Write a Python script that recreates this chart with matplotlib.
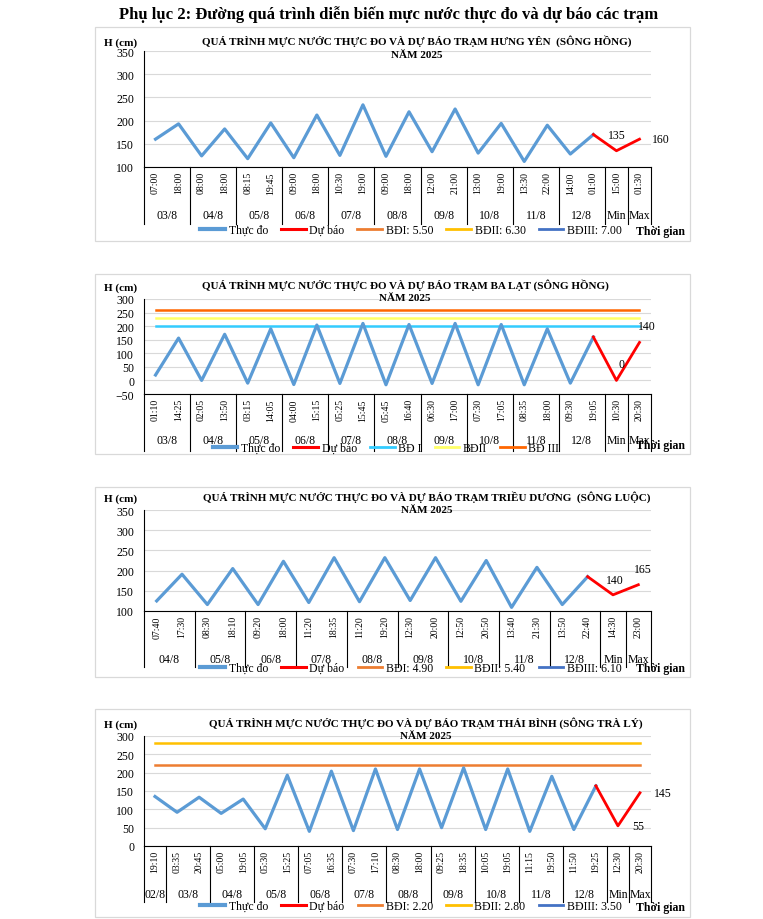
import numpy as np
import matplotlib

matplotlib.use("Agg")
import matplotlib.pyplot as plt
from matplotlib.lines import Line2D
from matplotlib.patches import Rectangle
from matplotlib.transforms import blended_transform_factory

W, H = 763, 920
plt.rcParams["font.family"] = ["Liberation Serif", "DejaVu Serif"]

OBS_COLOR = "#5B9BD5"
FC_COLOR = "#FF0000"

# ---- Trạm Hưng Yên (sông Hồng)
hy_groups = ["03/8", "04/8", "05/8", "06/8", "07/8", "08/8", "09/8", "10/8", "11/8", "12/8", "Min", "Max"]
hy_sizes = [2, 2, 2, 2, 2, 2, 2, 2, 2, 2, 1, 1]
hy_times = ["07:00", "18:00", "08:00", "18:00", "08:15", "19:45", "09:00", "18:00", "10:30", "19:00",
            "09:00", "18:00", "12:00", "21:00", "13:00", "19:00", "13:30", "22:00", "14:00", "01:00",
            "15:00", "01:30"]
hy_obs = [160, 193, 124, 182, 118, 195, 120, 212, 125, 234,
          123, 219, 133, 225, 130, 194, 112, 190, 128, 170]
hy_fc = [135, 160]
hy_levels = [550, 630, 700]
hy_labels = ["Thực đo", "Dự báo", "BĐI: 5.50", "BĐII: 6.30", "BĐIII: 7.00"]

# ---- Trạm Ba Lạt (sông Hồng)
bl_groups = ["03/8", "04/8", "05/8", "06/8", "07/8", "08/8", "09/8", "10/8", "11/8", "12/8", "Min", "Max"]
bl_sizes = [2, 2, 2, 2, 2, 2, 2, 2, 2, 2, 1, 1]
bl_times = ["01:10", "14:25", "02:05", "13:50", "03:15", "14:05", "04:00", "15:15", "05:25", "15:45",
            "05:45", "16:40", "06:30", "17:00", "07:30", "17:05", "08:35", "18:00", "09:30", "19:05",
            "10:30", "20:30"]
bl_obs = [20, 156, 0, 170, -10, 190, -15, 204, -11, 210,
          -16, 206, -11, 210, -16, 206, -16, 190, -10, 160]
bl_fc = [0, 140]
bl_levels = [200, 230, 260]
bl_labels = ["Thực đo", "Dự báo", "BĐ I", "BĐII", "BĐ III"]

# ---- Trạm Triều Dương (sông Luộc)
td_groups = ["04/8", "05/8", "06/8", "07/8", "08/8", "09/8", "10/8", "11/8", "12/8", "Min", "Max"]
td_sizes = [2, 2, 2, 2, 2, 2, 2, 2, 2, 1, 1]
td_times = ["07:40", "17:30", "08:30", "18:10", "09:20", "18:00", "11:20", "18:35", "11:20", "19:20",
            "12:30", "20:00", "12:50", "20:50", "13:40", "21:30", "13:50", "22:40", "14:30", "23:00"]
td_obs = [125, 191, 116, 205, 116, 223, 121, 232, 123, 232,
          126, 232, 124, 225, 109, 208, 116, 185]
td_fc = [140, 165]
td_levels = [490, 540, 610]
td_labels = ["Thực đo", "Dự báo", "BĐI: 4.90", "BĐII: 5.40", "BĐIII: 6.10"]

# ---- Trạm Thái Bình (sông Trà Lý)
tb_groups = ["02/8", "03/8", "04/8", "05/8", "06/8", "07/8", "08/8", "09/8", "10/8", "11/8", "12/8", "Min", "Max"]
tb_sizes = [1, 2, 2, 2, 2, 2, 2, 2, 2, 2, 2, 1, 1]
tb_times = ["19:10", "03:35", "20:45", "05:00", "19:05", "05:30", "15:25", "07:05", "16:35", "07:30",
            "17:10", "08:30", "18:00", "09:25", "18:35", "10:05", "19:05", "11:15", "19:50", "11:50",
            "19:25", "12:30", "20:30"]
tb_obs = [135, 92, 133, 89, 128, 47, 193, 40, 204, 42,
          210, 45, 210, 50, 213, 45, 210, 40, 190, 45, 164]
tb_fc = [55, 145]
tb_levels = [220, 280, 350]
tb_labels = ["Thực đo", "Dự báo", "BĐI: 2.20", "BĐII: 2.80", "BĐIII: 3.50"]

EXCEL_LEVELS = ["#ED7D31", "#FFC000", "#4472C4"]
BALAT_LEVELS = ["#33CCFF", "#FFFF66", "#FF6600"]


def fx(x):
    return x / W


def fy(y):
    return 1 - y / H


def draw_panel(fig, box, plot_px, ylim, groups, sizes, times, obs, fc, levels,
               level_colors, labels, title, title_x, title_y, h_y, date_y, sep_y,
               legend_xy, tg_y, fc_offsets):
    bx0, by0, bx1, by1 = box
    fig.patches.append(Rectangle((fx(bx0), fy(by1)), (bx1 - bx0) / W, (by1 - by0) / H,
                                 transform=fig.transFigure, fill=False,
                                 ec="#D9D9D9", lw=0.9))
    x0, y0, x1, y1 = plot_px
    ax = fig.add_axes([fx(x0), fy(y1), (x1 - x0) / W, (y1 - y0) / H])
    n = len(times)
    x = np.arange(n)
    nobs = len(obs)

    ax.set_xlim(-0.5, n - 0.5)
    ax.set_ylim(*ylim)
    ax.set_yticks(np.arange(ylim[0], ylim[1] + 1, 50))
    ax.grid(axis="y", color="#D9D9D9", lw=0.8)
    ax.set_axisbelow(True)
    for s in ["top", "right"]:
        ax.spines[s].set_visible(False)
    for s in ["left", "bottom"]:
        ax.spines[s].set_linewidth(0.8)
    ax.tick_params(axis="y", length=0, pad=7, labelsize=8.5)
    ax.set_xticks(x, times, rotation=90, fontsize=7)
    ax.tick_params(axis="x", length=0, pad=3)

    for lv, c in zip(levels, level_colors):
        ax.plot(x, [lv] * n, color=c, lw=1.8)
    ax.plot(x[:nobs], obs, color=OBS_COLOR, lw=2.3, solid_joinstyle="round")
    ax.plot(x[nobs - 1:], [obs[-1]] + fc, color=FC_COLOR, lw=2.0, solid_joinstyle="round")

    for i, (v, off) in enumerate(zip(fc, fc_offsets)):
        ha = "left" if off[0] > 6 else "center"
        ax.annotate(str(v), (x[nobs + i], v), xytext=off, textcoords="offset points",
                    ha=ha, va="center", fontsize=8.5, annotation_clip=False)

    # trục phân loại hai tầng: giờ / ngày
    trans = blended_transform_factory(ax.transData, fig.transFigure)
    starts = np.cumsum([0] + sizes)
    for b in starts:
        ax.plot([b - 0.5, b - 0.5], [fy(y1), fy(sep_y)], transform=trans,
                color="black", lw=0.8, clip_on=False)
    for g, s0, s1 in zip(groups, starts[:-1], starts[1:]):
        ax.text((s0 + s1 - 1) / 2, fy(date_y), g, transform=trans,
                ha="center", va="center", fontsize=8.5)

    handles = [Line2D([], [], color=OBS_COLOR, lw=3.0),
               Line2D([], [], color=FC_COLOR, lw=2.2)]
    handles += [Line2D([], [], color=c, lw=2.0) for c in level_colors]
    fig.legend(handles, labels, loc="center", bbox_to_anchor=(fx(legend_xy[0]), fy(legend_xy[1])),
               ncol=5, frameon=False, fontsize=8.5, handlelength=2.1, handletextpad=0.3,
               columnspacing=1.1, borderpad=0, borderaxespad=0)

    fig.text(fx(660), fy(tg_y), "Thời gian", ha="center", va="center",
             fontsize=8.5, fontweight="bold")
    fig.text(fx(104), fy(h_y), "H (cm)", ha="left", va="center",
             fontsize=8, fontweight="bold")
    fig.text(fx(title_x), fy(title_y), title, ha="center", va="center",
             fontsize=8, fontweight="bold")
    fig.text(fx(title_x), fy(title_y + 14), "NĂM 2025", ha="center", va="center",
             fontsize=8, fontweight="bold")
    return ax


fig = plt.figure(figsize=(W / 100, H / 100), dpi=100)
fig.text(fx(389), fy(15), "Phụ lục 2: Đường quá trình diễn biến mực nước thực đo và dự báo các trạm",
         ha="center", va="center", fontsize=12, fontweight="bold")

draw_panel(fig, (95, 28, 690, 242), (144, 52, 651, 168), (100, 350),
           hy_groups, hy_sizes, hy_times, hy_obs, hy_fc, hy_levels, EXCEL_LEVELS, hy_labels,
           "QUÁ TRÌNH MỰC NƯỚC THỰC ĐO VÀ DỰ BÁO TRẠM HƯNG YÊN  (SÔNG HỒNG)",
           417, 41, 43, 216, 225, (411, 231), 232, [(0, 11.5), (9, 0)])

draw_panel(fig, (95, 275, 690, 455), (144, 300, 651, 395), (-50, 300),
           bl_groups, bl_sizes, bl_times, bl_obs, bl_fc, bl_levels, BALAT_LEVELS, bl_labels,
           "QUÁ TRÌNH MỰC NƯỚC THỰC ĐO VÀ DỰ BÁO TRẠM BA LẠT (SÔNG HỒNG)",
           405, 285, 288, 441, 452, (386, 449), 446, [(4, 11.5), (5, 11.5)])

draw_panel(fig, (95, 488, 690, 678), (144, 511, 651, 612), (100, 350),
           td_groups, td_sizes, td_times, td_obs, td_fc, td_levels, EXCEL_LEVELS, td_labels,
           "QUÁ TRÌNH MỰC NƯỚC THỰC ĐO VÀ DỰ BÁO TRẠM TRIỀU DƯƠNG  (SÔNG LUỘC)",
           427, 497, 499, 660, 668, (411, 669), 669, [(1, 11), (3, 11)])

draw_panel(fig, (95, 710, 690, 918), (144, 737, 651, 847), (0, 300),
           tb_groups, tb_sizes, tb_times, tb_obs, tb_fc, tb_levels, EXCEL_LEVELS, tb_labels,
           "QUÁ TRÌNH MỰC NƯỚC THỰC ĐO VÀ DỰ BÁO TRẠM THÁI BÌNH (SÔNG TRÀ LÝ)",
           426, 723, 725, 895, 903, (411, 907), 908, [(10, 0), (10, 0)])

fig.savefig("out.png", dpi=100)
